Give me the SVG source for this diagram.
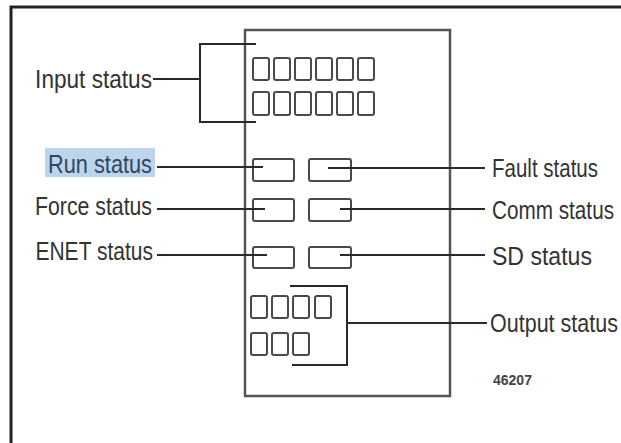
<svg xmlns="http://www.w3.org/2000/svg" width="621" height="443" viewBox="0 0 621 443">
<style>
.lbl{font-family:"Liberation Sans",Arial,sans-serif;font-size:26px;fill:#333;}
.end{text-anchor:end;}
.num{font-family:"Liberation Sans",Arial,sans-serif;font-size:14px;font-weight:bold;fill:#444;}
.led{fill:none;stroke:#4a4a4a;stroke-width:2;}
.ln{fill:none;stroke:#2a2a2a;stroke-width:2;}
.panel{fill:#fff;stroke:#555;stroke-width:2.5;}
</style>
<rect x="0" y="0" width="621" height="443" fill="#fff"/>
<g id="frame">
<path d="M11 443 V7 H621" fill="none" stroke="#222" stroke-width="3"/>
</g>
<g id="panel">
<rect class="panel" x="245" y="30" width="205" height="366"/>
</g>
<g id="input-leds">
<rect class="led" x="253" y="58" width="16" height="22" rx="2"/>
<rect class="led" x="274" y="58" width="16" height="22" rx="2"/>
<rect class="led" x="295" y="58" width="16" height="22" rx="2"/>
<rect class="led" x="316" y="58" width="16" height="22" rx="2"/>
<rect class="led" x="337" y="58" width="16" height="22" rx="2"/>
<rect class="led" x="358" y="58" width="16" height="22" rx="2"/>
<rect class="led" x="253" y="92" width="16" height="23" rx="2"/>
<rect class="led" x="274" y="92" width="16" height="23" rx="2"/>
<rect class="led" x="295" y="92" width="16" height="23" rx="2"/>
<rect class="led" x="316" y="92" width="16" height="23" rx="2"/>
<rect class="led" x="337" y="92" width="16" height="23" rx="2"/>
<rect class="led" x="358" y="92" width="16" height="23" rx="2"/>
</g>
<g id="status-leds">
<rect class="led" x="253" y="159" width="41" height="22" rx="2"/>
<rect class="led" x="309" y="159" width="42" height="22" rx="2"/>
<rect class="led" x="253" y="199" width="41" height="22" rx="2"/>
<rect class="led" x="309" y="199" width="42" height="22" rx="2"/>
<rect class="led" x="253" y="247" width="41" height="21" rx="2"/>
<rect class="led" x="309" y="247" width="42" height="21" rx="2"/>
</g>
<g id="output-leds">
<rect class="led" x="251" y="296" width="16" height="22" rx="2"/>
<rect class="led" x="272" y="296" width="16" height="22" rx="2"/>
<rect class="led" x="293" y="296" width="16" height="22" rx="2"/>
<rect class="led" x="315" y="296" width="16" height="22" rx="2"/>
<rect class="led" x="251" y="333" width="16" height="22" rx="2"/>
<rect class="led" x="272" y="333" width="16" height="22" rx="2"/>
<rect class="led" x="293" y="333" width="16" height="22" rx="2"/>
</g>
<g id="connectors">
<path class="ln" d="M256 44 H200 V122 H256"/>
<path class="ln" d="M153 79 H200"/>
<path class="ln" d="M157 167 H263"/>
<path class="ln" d="M157 209 H265"/>
<path class="ln" d="M157 255 H267"/>
<path class="ln" d="M328 168 H485"/>
<path class="ln" d="M340 209 H485"/>
<path class="ln" d="M340 255 H485"/>
<path class="ln" d="M290 286 H347 V365 H292"/>
<path class="ln" d="M347 323 H487"/>
</g>
<g id="input-status">
<text class="lbl end" transform="translate(152,88) scale(0.87,1)">Input status</text>
</g>
<g id="run-status">
<rect x="45" y="148" width="110" height="29" fill="#bcd5eb"/>
<text class="lbl end" transform="translate(152,173) scale(0.837,1)" style="fill:#2e4662">Run status</text>
</g>
<g id="force-status">
<text class="lbl end" transform="translate(152,215) scale(0.818,1)">Force status</text>
</g>
<g id="enet-status">
<text class="lbl end" transform="translate(153,260) scale(0.809,1)">ENET status</text>
</g>
<g id="fault-status">
<text class="lbl" transform="translate(492,177) scale(0.789,1)">Fault status</text>
</g>
<g id="comm-status">
<text class="lbl" transform="translate(492,219) scale(0.797,1)">Comm status</text>
</g>
<g id="sd-status">
<text class="lbl" transform="translate(492,265) scale(0.887,1)">SD status</text>
</g>
<g id="output-status">
<text class="lbl" transform="translate(490,332) scale(0.828,1)">Output status</text>
</g>
<g id="figure-number">
<text class="num" x="493" y="385">46207</text>
</g>
</svg>
